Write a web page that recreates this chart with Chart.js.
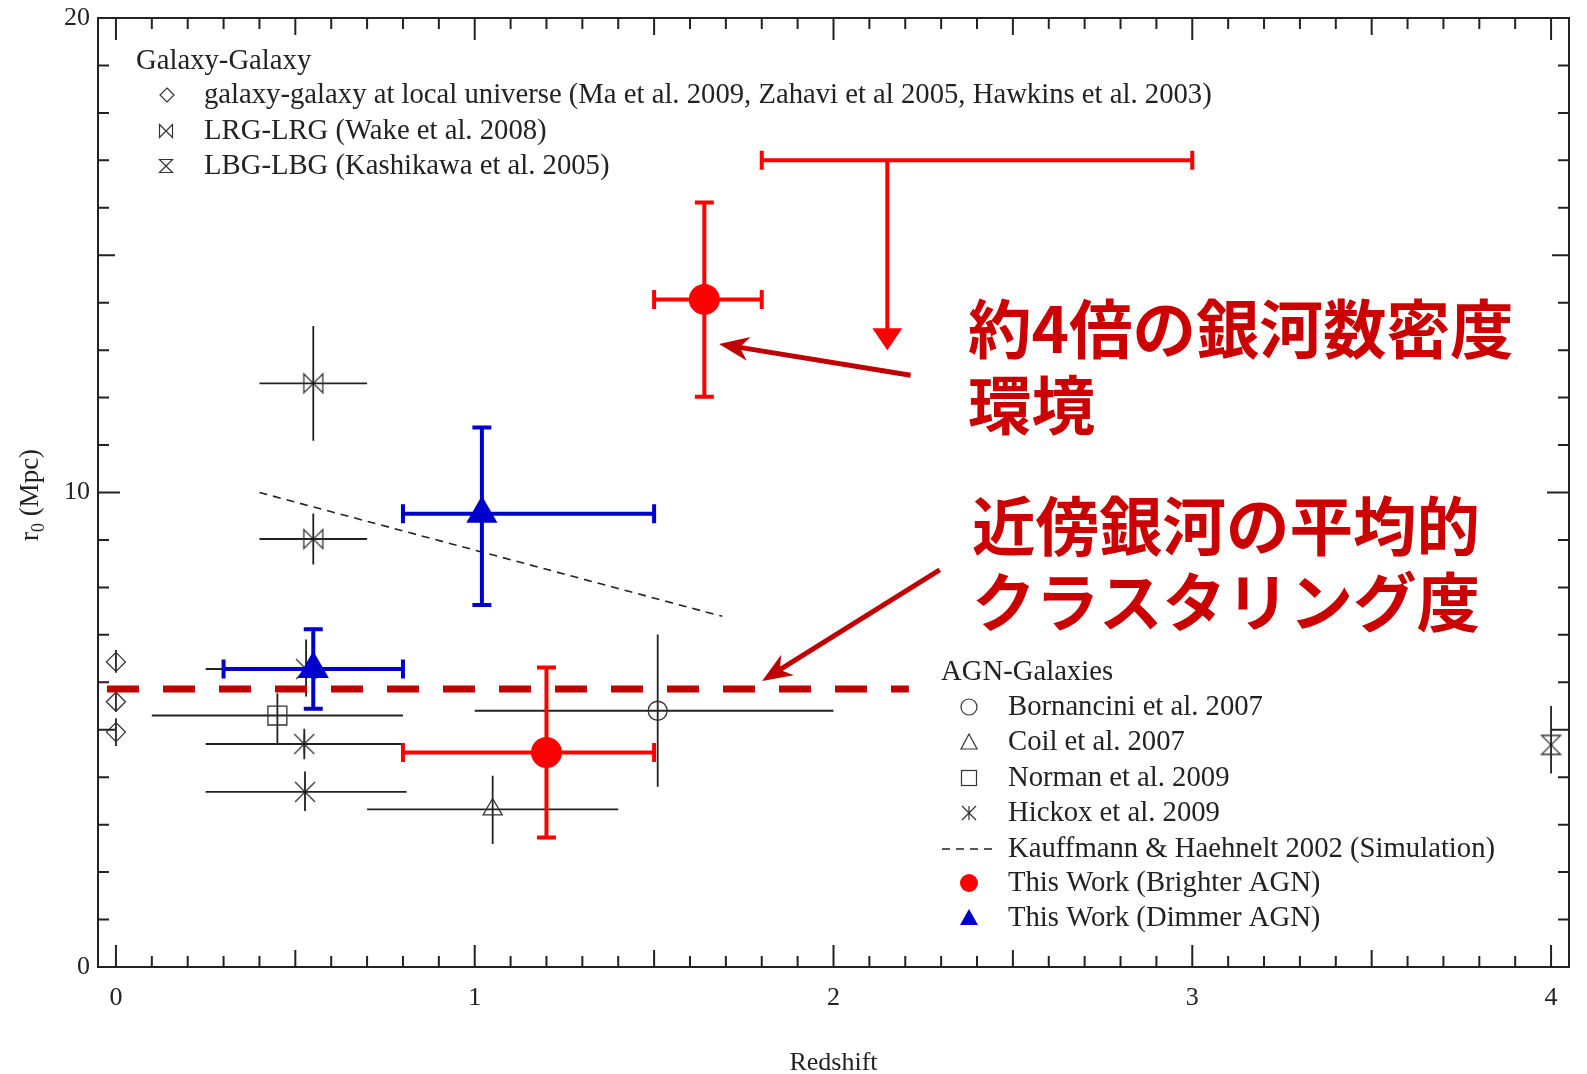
<!DOCTYPE html>
<html>
<head>
<meta charset="utf-8">
<script src="https://cdn.jsdelivr.net/npm/chart.js@4.4.0/dist/chart.umd.min.js"></script>
<style>
  html, body { margin: 0; padding: 0; background: #fff; overflow: hidden; }
  #wrap { width: 1587px; height: 1074px; position: relative; }
  #chart { display: block; }
</style>
</head>
<body>
<div id="wrap"><canvas id="chart"></canvas></div>
<script>
// ---- values (redshift z, correlation length r0) ----
const xTicks = [0, 1, 2, 3, 4];
const yTicks = [0, 10, 20];

// Galaxy-Galaxy
const localZ = [0, 0, 0];
const localR = [6.43, 5.59, 4.95];
const localRErr = [[6.20, 6.68], [5.38, 5.77], [4.66, 5.24]];

const lrgZ = [0.55, 0.55];
const lrgR = [12.30, 9.02];
const lrgZErr = [[0.40, 0.70], [0.40, 0.70]];
const lrgRErr = [[11.09, 13.51], [8.48, 9.56]];

const lbgZ = [4.0];
const lbgR = [4.68];
const lbgRErr = [[4.08, 5.50]];

// AGN-Galaxies
const bornZ = [1.51];
const bornR = [5.40];
const bornZErr = [[1.00, 2.00]];
const bornRErr = [[3.80, 7.01]];

const coilZ = [1.05];
const coilR = [3.32];
const coilZErr = [[0.70, 1.40]];
const coilRErr = [[2.59, 4.03]];

const normanZ = [0.45];
const normanR = [5.30];
const normanZErr = [[0.10, 0.80]];
const normanRErr = [[4.70, 5.77]];

const hickoxZ = [0.53, 0.525, 0.527];
const hickoxR = [6.28, 4.70, 3.69];
const hickoxZErr = [[0.25, 0.80], [0.25, 0.80], [0.25, 0.81]];
const hickoxRErr = [[5.70, 6.90], [4.38, 5.02], [3.29, 4.12]];

const kauffZ = [0.40, 1.69];
const kauffR = [10.0, 7.39];

const brightZ = [1.64, 1.20];
const brightR = [14.07, 4.52];
const brightZErr = [[1.50, 1.80], [0.80, 1.50]];
const brightRErr = [[12.02, 16.11], [2.73, 6.31]];

const dimZ = [1.02, 0.55];
const dimR = [9.55, 6.28];
const dimZErr = [[0.80, 1.50], [0.30, 0.80]];
const dimRErr = [[7.63, 11.37], [5.44, 7.12]];

// upper limit of the brighter sample at high z
const limZ = [2.15];
const limR = [17.0];
const limZErr = [[1.80, 3.00]];
const limTo = [13.0];

// mean clustering of nearby galaxies
const meanZ = [-0.025, 2.21];
const meanR = [5.86, 5.86];

// annotations
const noteLines = ['約4倍の銀河数密度', '環境', '近傍銀河の平均的', 'クラスタリング度'];
const noteArrowFrom = [[2.215, 12.47], [2.296, 8.37]];
const noteArrowTo = [[1.681, 13.13], [1.801, 6.03]];

const galLegend = ['galaxy-galaxy at local universe (Ma et al. 2009, Zahavi et al 2005, Hawkins et al. 2003)',
  'LRG-LRG (Wake et al. 2008)', 'LBG-LBG (Kashikawa et al. 2005)'];
const agnLegend = ['Bornancini et al. 2007', 'Coil et al. 2007', 'Norman et al. 2009', 'Hickox et al. 2009',
  'Kauffmann & Haehnelt 2002 (Simulation)', 'This Work (Brighter AGN)', 'This Work (Dimmer AGN)'];

const SERIF = "'Liberation Serif', 'Times New Roman', serif";
const INK = '#222';
const RED = '#ff0000';
const BLUE = '#0000cc';
const DARKRED = '#c00000';

Chart.defaults.font.family = SERIF;
Chart.defaults.color = INK;

const pts = (zs, rs) => zs.map((z, i) => ({ x: z, y: rs[i] }));

// hand drawn marker shapes
function drawBowtie(g, h) {
  g.beginPath();
  g.moveTo(-h, -h); g.lineTo(h, h); g.lineTo(h, -h); g.lineTo(-h, h); g.closePath();
  g.stroke();
}
function drawHourglass(g, h) {
  g.beginPath();
  g.moveTo(-h, -h); g.lineTo(h, -h); g.lineTo(-h, h); g.lineTo(h, h); g.closePath();
  g.stroke();
}
function drawAsterisk(g, h) {
  g.beginPath();
  g.moveTo(0, -h); g.lineTo(0, h);
  g.moveTo(-h, -h); g.lineTo(h, h);
  g.moveTo(-h, h); g.lineTo(h, -h);
  g.stroke();
}
function markerCanvas(draw, half) {
  const size = Math.ceil(half * 2 + 4);
  const c = document.createElement('canvas');
  c.width = size; c.height = size;
  const g = c.getContext('2d');
  g.translate(size / 2, size / 2);
  g.strokeStyle = '#333';
  g.lineWidth = 1.3;
  draw(g, half);
  g.fillStyle = '#111';
  g.beginPath(); g.arc(0, 0, 1.3, 0, Math.PI * 2); g.fill();
  return c;
}
const bowtieImg = markerCanvas(drawBowtie, 9.5);
const hourglassImg = markerCanvas(drawHourglass, 9.5);
const asteriskImg = markerCanvas(drawAsterisk, 10);

const open = { backgroundColor: 'rgba(0,0,0,0)', borderColor: '#333', borderWidth: 1.3 };
const blackErr = { errColor: INK, errWidth: 1.8, errCap: 0 };

// error bars, drawn under each dataset's markers
const errorBars = {
  id: 'errorBars',
  beforeDatasetDraw(chart, args) {
    const ds = chart.data.datasets[args.index];
    if (!ds.errX && !ds.errY) return;
    const { ctx, scales: { x, y } } = chart;
    ctx.save();
    ctx.strokeStyle = ds.errColor;
    ctx.fillStyle = ds.errColor;
    ctx.lineWidth = ds.errWidth;
    ds.data.forEach((p, i) => {
      const px = x.getPixelForValue(p.x);
      const py = y.getPixelForValue(p.y);
      ctx.beginPath();
      if (ds.errX) {
        const a = x.getPixelForValue(ds.errX[i][0]);
        const b = x.getPixelForValue(ds.errX[i][1]);
        ctx.moveTo(a, py); ctx.lineTo(b, py);
        if (ds.errCap) {
          ctx.moveTo(a, py - ds.errCap); ctx.lineTo(a, py + ds.errCap);
          ctx.moveTo(b, py - ds.errCap); ctx.lineTo(b, py + ds.errCap);
        }
      }
      if (ds.errY) {
        const a = y.getPixelForValue(ds.errY[i][0]);
        const b = y.getPixelForValue(ds.errY[i][1]);
        ctx.moveTo(px, a); ctx.lineTo(px, b);
        if (ds.errCap) {
          ctx.moveTo(px - ds.errCap, a); ctx.lineTo(px + ds.errCap, a);
          ctx.moveTo(px - ds.errCap, b); ctx.lineTo(px + ds.errCap, b);
        }
      }
      if (ds.limitTo) {
        const tip = y.getPixelForValue(ds.limitTo[i]);
        ctx.moveTo(px, py); ctx.lineTo(px, tip - 20);
      }
      ctx.stroke();
      if (ds.limitTo) {
        const tip = y.getPixelForValue(ds.limitTo[i]);
        ctx.beginPath();
        ctx.moveTo(px, tip); ctx.lineTo(px - 15, tip - 22); ctx.lineTo(px + 15, tip - 22);
        ctx.closePath(); ctx.fill();
      }
    });
    ctx.restore();
  }
};

// box with inward ticks on all four sides, plus tick labels
const frame = {
  id: 'frame',
  beforeDatasetsDraw(chart) {
    const { ctx, chartArea: a, scales: { x, y } } = chart;
    ctx.save();
    ctx.strokeStyle = INK;
    ctx.lineWidth = 2;
    ctx.strokeRect(a.left, a.top, a.right - a.left, a.bottom - a.top);
    ctx.beginPath();
    for (let i = 0; i <= 40; i++) {
      const px = x.getPixelForValue(i / 10);
      const len = i % 10 === 0 ? 22 : (i % 5 === 0 ? 17 : 11);
      ctx.moveTo(px, a.bottom); ctx.lineTo(px, a.bottom - len);
      ctx.moveTo(px, a.top); ctx.lineTo(px, a.top + len);
    }
    for (let j = 0; j <= 20; j++) {
      const py = y.getPixelForValue(j);
      const len = j % 10 === 0 ? 22 : (j % 5 === 0 ? 17 : 11);
      ctx.moveTo(a.left, py); ctx.lineTo(a.left + len, py);
      ctx.moveTo(a.right, py); ctx.lineTo(a.right - len, py);
    }
    ctx.stroke();

    ctx.fillStyle = INK;
    ctx.font = '26px ' + SERIF;
    ctx.textBaseline = 'middle';
    ctx.textAlign = 'center';
    xTicks.forEach(v => ctx.fillText(String(v), x.getPixelForValue(v), a.bottom + 31));
    ctx.textAlign = 'right';
    yTicks.forEach(v => ctx.fillText(String(v), a.left - 8, y.getPixelForValue(v)));
    ctx.textAlign = 'center';
    ctx.fillText('Redshift', (a.left + a.right) / 2, 1063);
    ctx.restore();
  }
};

function arrow(ctx, x0, y0, x1, y1) {
  const ang = Math.atan2(y1 - y0, x1 - x0);
  const L = 30, W = 12, notch = 9;
  ctx.beginPath();
  ctx.moveTo(x0, y0);
  ctx.lineTo(x1 - Math.cos(ang) * (L - notch), y1 - Math.sin(ang) * (L - notch));
  ctx.stroke();
  ctx.save();
  ctx.translate(x1, y1);
  ctx.rotate(ang);
  ctx.beginPath();
  ctx.moveTo(0, 0);
  ctx.lineTo(-L, -W);
  ctx.lineTo(-L + notch, 0);
  ctx.lineTo(-L, W);
  ctx.closePath();
  ctx.fill();
  ctx.restore();
}

// y title, legends and the Japanese notes
const extras = {
  id: 'extras',
  afterDraw(chart) {
    const { ctx, scales: { x, y } } = chart;
    ctx.save();

    // y axis title with subscript
    ctx.translate(38, 495);
    ctx.rotate(-Math.PI / 2);
    ctx.fillStyle = INK;
    ctx.textBaseline = 'alphabetic';
    ctx.font = '27px ' + SERIF;
    const w1 = ctx.measureText('r').width;
    const w3 = ctx.measureText(' (Mpc)').width;
    ctx.font = '18px ' + SERIF;
    const w2 = ctx.measureText('0').width;
    let sx = -(w1 + w2 + w3) / 2;
    ctx.font = '27px ' + SERIF;
    ctx.fillText('r', sx, 0);
    ctx.font = '18px ' + SERIF;
    ctx.fillText('0', sx + w1, 6);
    ctx.font = '27px ' + SERIF;
    ctx.fillText(' (Mpc)', sx + w1 + w2, 0);
    ctx.setTransform(1, 0, 0, 1, 0, 0);

    // legends
    ctx.font = '28.7px ' + SERIF;
    ctx.textBaseline = 'middle';
    ctx.textAlign = 'left';
    ctx.fillText('Galaxy-Galaxy', 136, 61);
    const galY = [95, 131, 166];
    galLegend.forEach((t, i) => ctx.fillText(t, 204, galY[i]));
    ctx.strokeStyle = '#333';
    ctx.lineWidth = 1.2;
    ctx.save(); ctx.translate(167, galY[0]);
    ctx.beginPath(); ctx.moveTo(0, -7); ctx.lineTo(7, 0); ctx.lineTo(0, 7); ctx.lineTo(-7, 0); ctx.closePath(); ctx.stroke();
    ctx.restore();
    ctx.save(); ctx.translate(166, galY[1]); drawBowtie(ctx, 6.5); ctx.restore();
    ctx.save(); ctx.translate(166, galY[2]); drawHourglass(ctx, 6.5); ctx.restore();

    ctx.fillStyle = INK;
    ctx.fillText('AGN-Galaxies', 941, 672);
    const agnY = [707, 742, 778, 813, 849, 883, 918];
    agnLegend.forEach((t, i) => ctx.fillText(t, 1008, agnY[i]));
    const mx = 969;
    ctx.beginPath(); ctx.arc(mx, agnY[0], 8, 0, Math.PI * 2); ctx.stroke();
    ctx.beginPath(); ctx.moveTo(mx, agnY[1] - 8); ctx.lineTo(mx + 8, agnY[1] + 7); ctx.lineTo(mx - 8, agnY[1] + 7); ctx.closePath(); ctx.stroke();
    ctx.strokeRect(mx - 7.5, agnY[2] - 7.5, 15, 15);
    ctx.save(); ctx.translate(mx, agnY[3]); drawAsterisk(ctx, 7); ctx.restore();
    ctx.save();
    ctx.setLineDash([8, 6]); ctx.lineWidth = 1.6; ctx.strokeStyle = INK;
    ctx.beginPath(); ctx.moveTo(942, agnY[4]); ctx.lineTo(998, agnY[4]); ctx.stroke();
    ctx.restore();
    ctx.fillStyle = RED;
    ctx.beginPath(); ctx.arc(mx, agnY[5], 9, 0, Math.PI * 2); ctx.fill();
    ctx.fillStyle = BLUE;
    ctx.beginPath(); ctx.moveTo(mx, agnY[6] - 9); ctx.lineTo(mx + 9, agnY[6] + 7); ctx.lineTo(mx - 9, agnY[6] + 7); ctx.closePath(); ctx.fill();

    // notes
    ctx.fillStyle = '#cc0000';
    ctx.font = "bold 63.5px 'Noto Sans CJK JP', sans-serif";
    const notePos = [[968, 329], [968, 405], [972, 526], [972, 602]];
    noteLines.forEach((t, i) => ctx.fillText(t, notePos[i][0], notePos[i][1]));
    ctx.strokeStyle = DARKRED;
    ctx.fillStyle = DARKRED;
    ctx.lineWidth = 5;
    noteArrowFrom.forEach((f, i) => {
      const t = noteArrowTo[i];
      arrow(ctx, x.getPixelForValue(f[0]), y.getPixelForValue(f[1]),
        x.getPixelForValue(t[0]), y.getPixelForValue(t[1]));
    });
    ctx.restore();
  }
};

new Chart(document.getElementById('chart'), {
  type: 'scatter',
  data: {
    datasets: [
      { label: 'This Work (Brighter AGN)', data: pts(brightZ, brightR), pointStyle: 'circle', pointRadius: 15.5,
        backgroundColor: RED, borderColor: RED, borderWidth: 0,
        errX: brightZErr, errY: brightRErr, errColor: RED, errWidth: 4, errCap: 9.5 },
      { label: 'This Work (Dimmer AGN)', data: pts(dimZ, dimR), pointStyle: 'triangle', pointRadius: 18,
        backgroundColor: BLUE, borderColor: BLUE, borderWidth: 0,
        errX: dimZErr, errY: dimRErr, errColor: BLUE, errWidth: 4, errCap: 9.5 },
      { label: 'limit', data: pts(limZ, limR), pointRadius: 0,
        errX: limZErr, limitTo: limTo, errColor: RED, errWidth: 4, errCap: 9.5 },
      { label: 'local mean', data: pts(meanZ, meanR), showLine: true, pointRadius: 0,
        borderColor: DARKRED, borderWidth: 7, borderDash: [32, 24] },
      { label: 'Kauffmann & Haehnelt 2002', data: pts(kauffZ, kauffR), showLine: true, pointRadius: 0,
        borderColor: INK, borderWidth: 1.6, borderDash: [8, 6] },
      { label: 'Hickox et al. 2009', data: pts(hickoxZ, hickoxR), pointStyle: asteriskImg, pointRadius: 10,
        errX: hickoxZErr, errY: hickoxRErr, ...blackErr },
      { label: 'Norman et al. 2009', data: pts(normanZ, normanR), pointStyle: 'rect', pointRadius: 13.4,
        ...open, errX: normanZErr, errY: normanRErr, ...blackErr },
      { label: 'Coil et al. 2007', data: pts(coilZ, coilR), pointStyle: 'triangle', pointRadius: 11,
        ...open, errX: coilZErr, errY: coilRErr, ...blackErr },
      { label: 'Bornancini et al. 2007', data: pts(bornZ, bornR), pointStyle: 'circle', pointRadius: 9.5,
        ...open, errX: bornZErr, errY: bornRErr, ...blackErr },
      { label: 'LBG-LBG', data: pts(lbgZ, lbgR), pointStyle: hourglassImg, pointRadius: 10,
        errY: lbgRErr, ...blackErr },
      { label: 'LRG-LRG', data: pts(lrgZ, lrgR), pointStyle: bowtieImg, pointRadius: 10,
        errX: lrgZErr, errY: lrgRErr, ...blackErr },
      { label: 'galaxy-galaxy', data: pts(localZ, localR), pointStyle: 'rectRot', pointRadius: 9.5,
        ...open, errY: localRErr, ...blackErr }
    ]
  },
  options: {
    responsive: true,
    maintainAspectRatio: false,
    animation: false,
    devicePixelRatio: 1,
    layout: { padding: { top: 18, right: 5, left: 0, bottom: 0 } },
    plugins: { legend: { display: false }, tooltip: { enabled: false } },
    scales: {
      x: {
        type: 'linear', min: -0.05, max: 4.05,
        grid: { display: false }, border: { display: false },
        ticks: { display: false },
        afterFit: s => { s.height = 107; }
      },
      y: {
        type: 'linear', min: 0, max: 20,
        grid: { display: false }, border: { display: false },
        ticks: { display: false },
        afterFit: s => { s.width = 98; }
      }
    }
  },
  plugins: [frame, errorBars, extras]
});
</script>
</body>
</html>
